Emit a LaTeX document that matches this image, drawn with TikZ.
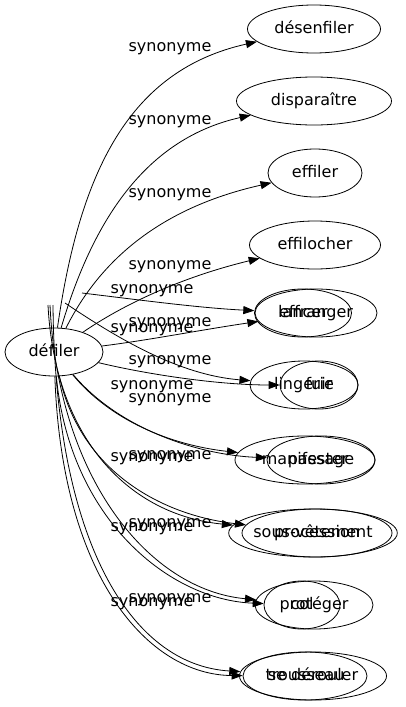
\documentclass[tikz,border=0pt]{standalone}
\usepackage{fontspec}
\setmainfont{DejaVu Sans}
\usetikzlibrary{shapes.geometric,arrows.meta,positioning}

\begin{document}
\begin{tikzpicture}[x=1pt, y=-1pt,
    every node/.style={font=\fontsize{16}{19}\selectfont},
    syn/.style={draw, ellipse, inner sep=0pt, minimum height=48pt, line width=0.8pt,
        text height=11.5pt, text depth=3.5pt},
    lbl/.style={inner sep=0pt, text height=11.5pt, text depth=3.5pt},
    edge/.style={-{Triangle[length=11pt,width=8pt]}, line width=0.8pt}]
    \useasboundingbox (0,0) rectangle (406,707);

    % Source word
    \node[syn, minimum width=98pt] (defiler) at (54,352) {défiler};

    % Synonyms
    \node[syn, minimum width=133pt] (desenfiler) at (314,29) {désenfiler};
    \node[syn, minimum width=155pt] (disparaitre) at (314,101) {disparaître};
    \node[syn, minimum width=94pt] (effiler) at (315,173) {effiler};
    \node[syn, minimum width=131pt] (effilocher) at (315,245) {effilocher};
    \node[syn, minimum width=122pt] (effranger) at (316,313) {effranger};
    \node[syn, minimum width=97pt] (lancer) at (303,313) {lancer};
    \node[syn, minimum width=108pt] (lingerie) at (304,385) {lingerie};
    \node[syn, minimum width=78pt] (fuir) at (319,385) {fuir};
    \node[syn, minimum width=140pt] (manifester) at (305,460) {manifester};
    \node[syn, minimum width=108pt] (passage) at (321,460) {passage};
    \node[syn, minimum width=166pt] (sousvetement) at (313,533) {sous-vêtement};
    \node[syn, minimum width=150pt] (procession) at (317,533) {procession};
    \node[syn, minimum width=118pt] (proteger) at (314,605) {protéger};
    \node[syn, minimum width=76pt] (col) at (302,605) {col};
    \node[syn, minimum width=147pt] (sederouler) at (313,676) {se dérouler};
    \node[syn, minimum width=124pt] (trousseau) at (305,676) {trousseau};

    % Edge labels
    \foreach \y [count=\i] in {47,120,193,265,322,360,398,455,523,598}
        \node[lbl] (r\i) at (170,\y) {synonyme};
    \foreach \y [count=\i] in {289,328,385,457,527,602}
        \node[lbl] (l\i) at (152,\y) {synonyme};

    % Loose tails
    \coordinate (ta) at (82,293);
    \coordinate (tc) at (65,303);
    \coordinate (tk) at (48,305);
    \coordinate (tm) at (50,305);
    \coordinate (tp) at (53,305);

    % Edges
    \draw[edge] (defiler) .. controls (80,170) and (130,70) .. (desenfiler);
    \draw[edge] (defiler) .. controls (90,230) and (140,140) .. (disparaitre);
    \draw[edge] (defiler) .. controls (95,270) and (150,210) .. (effiler);
    \draw[edge] (defiler) .. controls (130,300) and (190,275) .. (effilocher);
    \draw[edge] (ta) .. controls (140,300) and (200,308) .. (lancer);
    \draw[edge] (defiler) .. controls (150,340) and (200,330) .. (effranger);
    \draw[edge] (tc) .. controls (120,340) and (180,375) .. (lingerie);
    \draw[edge] (defiler) .. controls (150,375) and (220,385) .. (fuir);
    \draw[edge] (defiler) .. controls (110,420) and (170,445) .. (manifester);
    \draw[edge] (defiler) .. controls (120,430) and (200,455) .. (passage);
    \draw[edge] (tk) .. controls (55,440) and (130,515) .. (sousvetement);
    \draw[edge] (defiler) .. controls (80,470) and (160,515) .. (procession);
    \draw[edge] (tm) .. controls (58,480) and (150,590) .. (proteger);
    \draw[edge] (defiler) .. controls (70,520) and (170,600) .. (col);
    \draw[edge] (tp) .. controls (55,540) and (130,665) .. (sederouler);
    \draw[edge] (defiler) .. controls (62,580) and (150,675) .. (trousseau);
\end{tikzpicture}
\end{document}
